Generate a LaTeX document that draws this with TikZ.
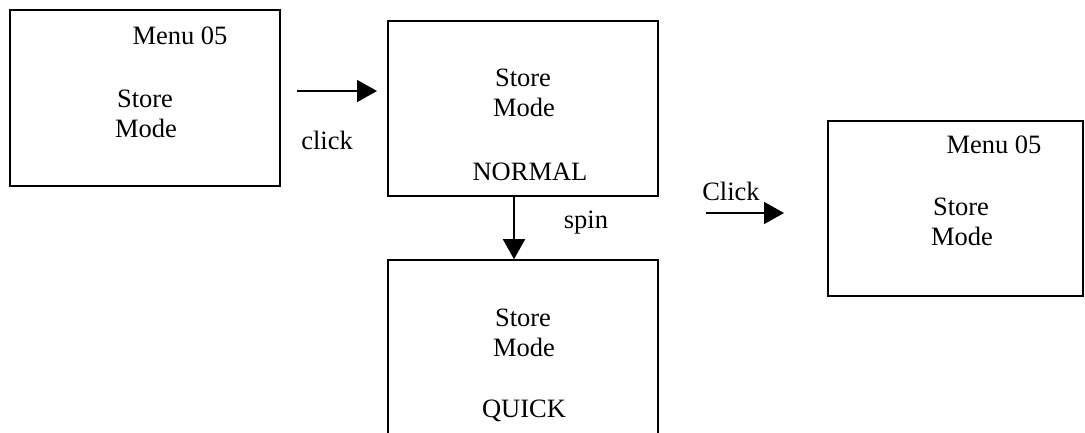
\documentclass[tikz,border=0pt]{standalone}
\usepackage{fontspec}
\setmainfont{Liberation Serif}
\usetikzlibrary{arrows.meta}
\begin{document}
\begin{tikzpicture}[x=1pt,y=-1pt,
  screen/.style={draw=black,line width=1.6pt,fill=none,inner sep=0pt,minimum width=#1},
  lbl/.style={anchor=base,inner sep=0pt,font=\fontsize{26.5}{30}\selectfont},
  flow/.style={line width=1.6pt,-{Triangle[length=20pt,width=22pt]}}]
\useasboundingbox (0,0) rectangle (1085,432);
\begin{scope}
\clip (0,0) rectangle (1085,432);
\node[screen=270pt,minimum height=176pt] (box1) at (145,98) {};
\node[screen=270pt,minimum height=175pt] (box2) at (523,108.5) {};
\node[screen=270pt,minimum height=190pt] (box3) at (523,355) {};
\node[screen=255pt,minimum height=175pt] (box4) at (955.5,208.5) {};
\end{scope}
% box 1
\node[lbl] (m1) at (180,44) {Menu 05};
\node[lbl] (s1) at (145,107) {Store};
\node[lbl] (d1) at (146,137) {Mode};
% box 2
\node[lbl] (s2) at (523,86) {Store};
\node[lbl] (d2) at (524,116) {Mode};
\node[lbl] (n2) at (530,180) {NORMAL};
% box 3
\node[lbl] (s3) at (523,326) {Store};
\node[lbl] (d3) at (524,356) {Mode};
\node[lbl] (q3) at (524,417) {QUICK};
% box 4
\node[lbl] (m4) at (994,153) {Menu 05};
\node[lbl] (s4) at (961,215) {Store};
\node[lbl] (d4) at (962,245) {Mode};
% arrows
\coordinate (a1s) at (297,91);
\coordinate (a1e) at (377,91);
\draw[flow] (a1s) -- (a1e);
\node[lbl] (click) at (327,149) {click};
\coordinate (a2s) at (box2.south -| 514,0);
\coordinate (a2e) at (box3.north -| 514,0);
\draw[flow] (a2s) -- (a2e);
\node[lbl] (spin) at (586,228) {spin};
\coordinate (a3s) at (706,213);
\coordinate (a3e) at (784,213);
\draw[flow] (a3s) -- (a3e);
\node[lbl] (Click) at (731,200) {Click};
\end{tikzpicture}
\end{document}
